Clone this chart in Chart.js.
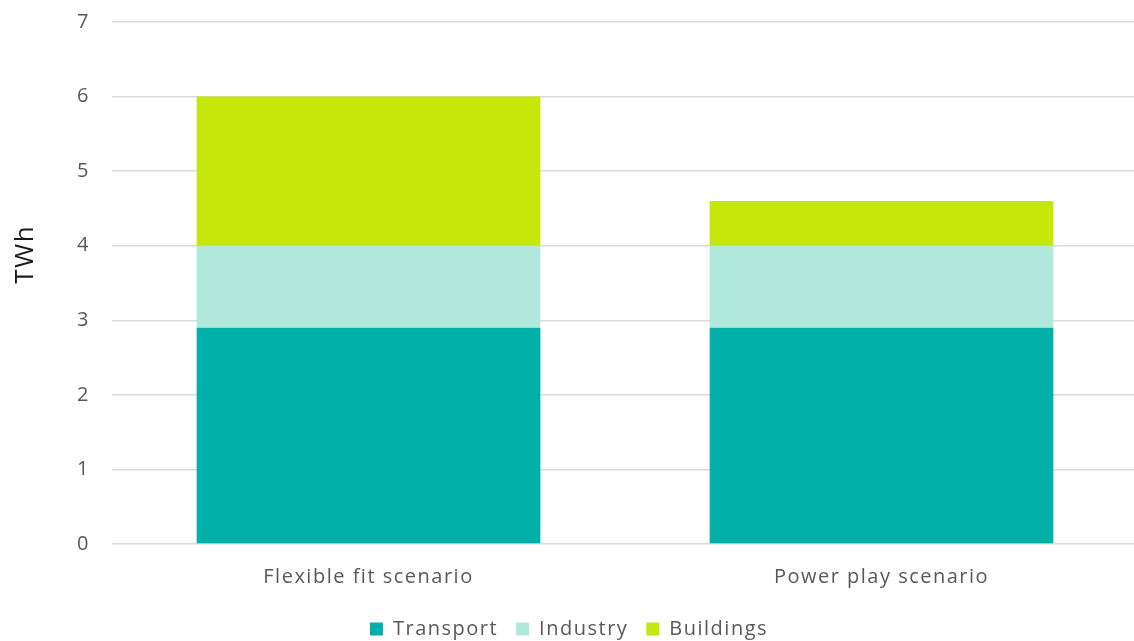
<!DOCTYPE html>
<html>
<head>
<meta charset="utf-8">
<script src="https://cdn.jsdelivr.net/npm/chart.js@4"></script>
<style>
  html, body { margin: 0; padding: 0; background: #fff; overflow: hidden; }
  #wrap { width: 1140px; height: 641px; position: relative; }
</style>
</head>
<body>
<div id="wrap"><canvas id="c"></canvas></div>
<script>
const categories = ["Flexible fit scenario", "Power play scenario"];
const transport = [2.9, 2.9];
const industry = [1.1, 1.1];
const buildings = [2.0, 0.6];
const yTicks = [0, 1, 2, 3, 4, 5, 6, 7];
const yTitle = "TWh";

const FONT = "'Open Sans', Lato, sans-serif";

const spacingPlugin = {
  id: 'spacing',
  beforeInit(chart) { chart.ctx.letterSpacing = '1.5px'; },
  beforeUpdate(chart) { chart.ctx.letterSpacing = '1.5px'; },
  beforeDraw(chart) { chart.ctx.letterSpacing = '1.5px'; }
};

const yTitlePlugin = {
  id: 'yTitle',
  afterDraw(chart) {
    const ctx = chart.ctx;
    const a = chart.chartArea;
    ctx.save();
    ctx.letterSpacing = '1.5px';
    ctx.translate(26, a.top + (a.bottom - a.top) * 0.445);
    ctx.rotate(-Math.PI / 2);
    ctx.font = "26px " + FONT;
    ctx.fillStyle = '#1a1a1a';
    ctx.textAlign = 'center';
    ctx.textBaseline = 'middle';
    ctx.fillText(yTitle, 0, 0);
    ctx.restore();
  }
};

new Chart(document.getElementById('c'), {
  type: 'bar',
  plugins: [spacingPlugin, yTitlePlugin],
  data: {
    labels: categories,
    datasets: [
      { label: 'Transport', data: transport, backgroundColor: '#00B0A9' },
      { label: 'Industry', data: industry, backgroundColor: '#B0E8DC' },
      { label: 'Buildings', data: buildings, backgroundColor: '#C5E70A' }
    ]
  },
  options: {
    responsive: true,
    maintainAspectRatio: false,
    animation: false,
    layout: { padding: { left: 0, right: 2, top: 22, bottom: -8 } },
    datasets: { bar: { categoryPercentage: 1, barPercentage: 0.67, borderWidth: 0 } },
    scales: {
      x: {
        stacked: true,
        grid: { display: false, drawTicks: false },
        border: { display: false },
        ticks: { color: '#595959', font: { family: FONT, size: 20 }, padding: 21 },
        afterFit: (s) => { s.height = 57; }
      },
      y: {
        stacked: true,
        min: 0, max: 7,
        afterBuildTicks: (s) => { s.ticks = yTicks.map(v => ({ value: v })); },
        grid: { color: '#D9D9D9', lineWidth: 1.5, drawTicks: true, tickLength: 22, tickColor: 'rgba(0,0,0,0)' },
        border: { display: false },
        ticks: { color: '#595959', font: { family: FONT, size: 20 }, padding: 0 },
        afterFit: (s) => { s.width = 112; }
      }
    },
    plugins: {
      legend: {
        position: 'bottom',
        labels: { boxWidth: 13, boxHeight: 13, padding: 18, color: '#595959', font: { family: FONT, size: 20 } }
      },
      tooltip: { enabled: false }
    }
  }
});
</script>
</body>
</html>
